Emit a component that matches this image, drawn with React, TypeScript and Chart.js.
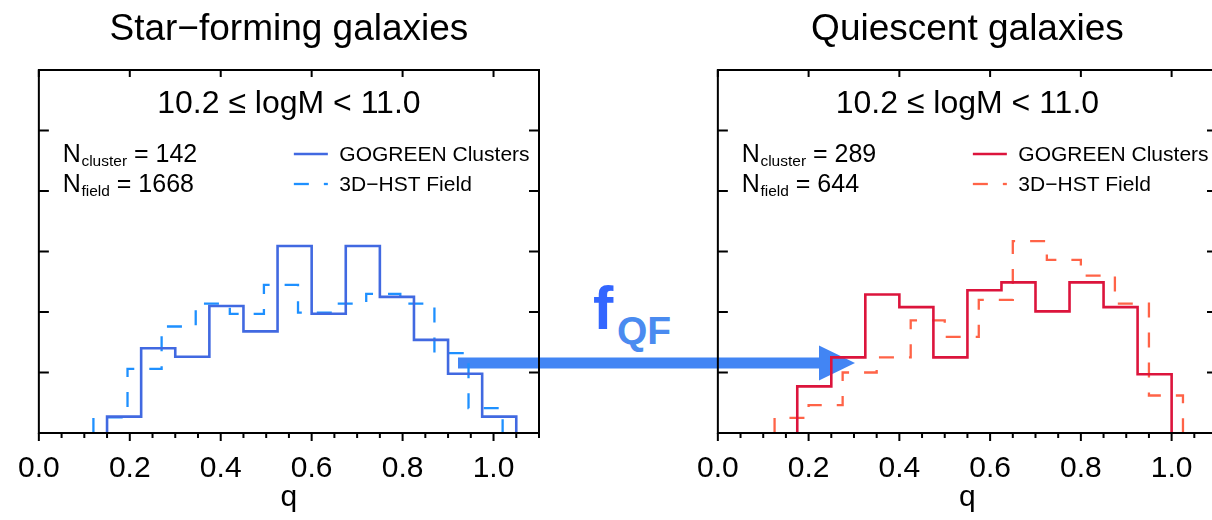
import React, { useEffect, useRef } from 'react';
import { Chart, registerables } from 'chart.js';

Chart.register(...registerables);

// ---------------- data ----------------
const xTickValues = [0.0, 0.2, 0.4, 0.6, 0.8, 1.0];
const yTickValues = [1, 2, 3, 4, 5];
const panelTitles = ['Star−forming galaxies', 'Quiescent galaxies'];
const massLabel = '10.2 ≤ logM < 11.0';
const seriesLabels = ['GOGREEN Clusters', '3D−HST Field'];
const sfCounts = [142, 1668];
const qCounts = [289, 644];

// star-forming, GOGREEN clusters (bin edges, bin heights)
const sfClusterEdges = [0.15, 0.225, 0.3, 0.375, 0.45, 0.525, 0.6, 0.675, 0.75, 0.825, 0.9, 0.975, 1.05];
const sfClusterValues = [0.27, 1.4, 1.26, 2.1, 1.68, 3.09, 1.97, 3.09, 2.25, 1.54, 0.98, 0.27];
// star-forming, 3D-HST field
const sfFieldEdges = [0.12, 0.195, 0.27, 0.345, 0.42, 0.495, 0.57, 0.645, 0.72, 0.795, 0.87, 0.945, 1.02];
const sfFieldValues = [0.26, 1.06, 1.76, 2.14, 1.97, 2.45, 1.99, 2.14, 2.3, 2.14, 1.32, 0.41];
// quiescent, GOGREEN clusters
const qClusterEdges = [0.175, 0.25, 0.325, 0.4, 0.475, 0.55, 0.625, 0.7, 0.775, 0.85, 0.925, 1.0];
const qClusterValues = [0.77, 1.25, 2.29, 2.08, 1.25, 2.36, 2.49, 2.01, 2.49, 2.08, 0.97];
// quiescent, 3D-HST field
const qFieldEdges = [0.125, 0.2, 0.275, 0.35, 0.425, 0.5, 0.575, 0.65, 0.725, 0.8, 0.875, 0.95, 1.025];
const qFieldValues = [0.25, 0.46, 1.0, 1.25, 1.86, 1.59, 2.2, 3.17, 2.86, 2.6, 2.14, 0.62];

// ---------------- styling ----------------
const FONT = '"Liberation Sans", Arial, Helvetica, sans-serif';
Chart.defaults.font.family = FONT;

type Panel = {
  title: string;
  counts: number[];
  clusterEdges: number[];
  clusterValues: number[];
  fieldEdges: number[];
  fieldValues: number[];
  solidColor: string;
  dashColor: string;
  canvasLeft: number;
  padLeft: number;
  plotWidth: number;
};

const panels: Panel[] = [
  {
    title: panelTitles[0],
    counts: sfCounts,
    clusterEdges: sfClusterEdges,
    clusterValues: sfClusterValues,
    fieldEdges: sfFieldEdges,
    fieldValues: sfFieldValues,
    solidColor: '#4169E1',
    dashColor: '#1E90FF',
    canvasLeft: 0,
    padLeft: 38,
    plotWidth: 501,
  },
  {
    title: panelTitles[1],
    counts: qCounts,
    clusterEdges: qClusterEdges,
    clusterValues: qClusterValues,
    fieldEdges: qFieldEdges,
    fieldValues: qFieldValues,
    solidColor: '#DC143C',
    dashColor: '#FF6347',
    canvasLeft: 679,
    padLeft: 38,
    plotWidth: 500,
  },
];

function stepPoints(edges: number[], values: number[]) {
  const pts = [{ x: edges[0], y: 0 }];
  values.forEach((v, i) => pts.push({ x: edges[i], y: v }));
  pts.push({ x: edges[edges.length - 1], y: 0 });
  return pts;
}

function framePlugin(panel: Panel) {
  return {
    id: 'frameAndText',
    afterDraw(chart: any) {
      const { ctx, chartArea } = chart;
      const { left, right, top, bottom } = chartArea;
      const xs = chart.scales.x;
      const ys = chart.scales.y;
      ctx.save();
      ctx.strokeStyle = '#000';
      ctx.lineWidth = 2;
      ctx.setLineDash([]);
      ctx.strokeRect(left, top, right - left, bottom - top);
      ctx.beginPath();
      // bottom ticks (outward), minor every 0.05
      for (let i = 0; i <= 22; i++) {
        const v = i * 0.05;
        const px = xs.getPixelForValue(v);
        if (px > right + 0.5) continue;
        const major = i % 4 === 0;
        ctx.moveTo(px, bottom);
        ctx.lineTo(px, bottom + (major ? 8 : 5));
      }
      // top ticks (inward, majors)
      xTickValues.forEach((v) => {
        const px = xs.getPixelForValue(v);
        ctx.moveTo(px, top);
        ctx.lineTo(px, top + 7);
      });
      // left and right ticks (inward)
      yTickValues.forEach((v) => {
        const py = ys.getPixelForValue(v);
        ctx.moveTo(left, py);
        ctx.lineTo(left + 10, py);
        ctx.moveTo(right, py);
        ctx.lineTo(right - 10, py);
      });
      ctx.stroke();

      // inner texts
      ctx.fillStyle = '#000';
      ctx.textBaseline = 'alphabetic';
      ctx.textAlign = 'center';
      ctx.font = `32px ${FONT}`;
      ctx.fillText(massLabel, (left + right) / 2, top + 42.7);

      ctx.textAlign = 'left';
      const rows = [
        { sub: 'cluster', value: panel.counts[0], y: top + 91.7, subDy: 4.5 },
        { sub: 'field', value: panel.counts[1], y: top + 121.7, subDy: 4.5 },
      ];
      rows.forEach((r) => {
        let x = left + 24;
        ctx.font = `25px ${FONT}`;
        ctx.fillText('N', x, r.y);
        x += ctx.measureText('N').width + 0.5;
        ctx.font = `15.5px ${FONT}`;
        ctx.fillText(r.sub, x, r.y + r.subDy);
        x += ctx.measureText(r.sub).width;
        ctx.font = `25px ${FONT}`;
        ctx.fillText(' = ' + r.value, x, r.y);
      });

      // legend
      const ds = chart.data.datasets;
      const legendRows = [
        { d: ds[0], y: top + 84, ty: top + 90.7 },
        { d: ds[1], y: top + 114, ty: top + 121 },
      ];
      legendRows.forEach((r) => {
        ctx.beginPath();
        ctx.strokeStyle = r.d.borderColor;
        ctx.lineWidth = r.d.borderWidth;
        ctx.setLineDash(r.d.borderDash || []);
        ctx.moveTo(left + 255, r.y);
        ctx.lineTo(left + 289, r.y);
        ctx.stroke();
        ctx.setLineDash([]);
        ctx.fillStyle = '#000';
        ctx.font = `21px ${FONT}`;
        ctx.fillText(r.d.label, left + 300.5, r.ty);
      });
      ctx.restore();
    },
  };
}

function makeConfig(panel: Panel): any {
  return {
    type: 'line',
    data: {
      datasets: [
        {
          label: seriesLabels[0],
          data: stepPoints(panel.clusterEdges, panel.clusterValues),
          borderColor: panel.solidColor,
          borderWidth: 2.6,
          stepped: 'before',
          pointRadius: 0,
          fill: false,
        },
        {
          label: seriesLabels[1],
          data: stepPoints(panel.fieldEdges, panel.fieldValues),
          borderColor: panel.dashColor,
          borderWidth: 2.3,
          borderDash: [15, 15],
          stepped: 'before',
          pointRadius: 0,
          fill: false,
        },
      ],
    },
    options: {
      animation: false,
      responsive: false,
      maintainAspectRatio: false,
      devicePixelRatio: 1,
      layout: { padding: { left: panel.padLeft, right: panel.padLeft, top: 0, bottom: 0 } },
      scales: {
        x: {
          type: 'linear',
          min: 0,
          max: 1.1,
          grid: { display: false, drawTicks: false },
          border: { display: false },
          afterBuildTicks: (s: any) => {
            s.ticks = xTickValues.map((v) => ({ value: v }));
          },
          afterFit: (s: any) => {
            s.height = 87;
          },
          ticks: {
            color: '#000',
            font: { size: 30, family: FONT },
            padding: 18,
            maxRotation: 0,
            autoSkip: false,
            callback: (v: any) => Number(v).toFixed(1),
          },
          title: {
            display: true,
            text: 'q',
            color: '#000',
            font: { size: 30, family: FONT },
            padding: { top: 0, bottom: 4 },
          },
        },
        y: { type: 'linear', min: 0, max: 6, display: false },
      },
      plugins: {
        legend: { display: false },
        tooltip: { enabled: false },
        title: {
          display: true,
          text: panel.title,
          color: '#000',
          fullSize: false,
          font: { size: 37, weight: 'normal', family: FONT },
          padding: { top: 7.2, bottom: 18.4 },
        },
      },
    },
    plugins: [framePlugin(panel)],
  };
}

function PanelChart({ panel }: { panel: Panel }) {
  const ref = useRef<HTMLCanvasElement | null>(null);
  useEffect(() => {
    if (!ref.current) return;
    const chart = new Chart(ref.current, makeConfig(panel));
    return () => chart.destroy();
  }, [panel]);
  const w = panel.padLeft * 2 + panel.plotWidth;
  return (
    <canvas
      ref={ref}
      width={w}
      height={520}
      style={{ position: 'absolute', left: panel.canvasLeft, top: 0, width: w, height: 520, zIndex: 1 }}
    />
  );
}

export default function App() {
  return (
    <div
      style={{
        position: 'fixed',
        left: 0,
        top: 0,
        width: 1212,
        height: 520,
        overflow: 'hidden',
        background: '#fff',
      }}
    >
      <svg
        width={1212}
        height={520}
        style={{ position: 'absolute', left: 0, top: 0, zIndex: 0 }}
      >
        <rect x={458} y={357.5} width={364} height={11} fill="#4285F4" />
        <polygon points="819,345.5 855,363 819,380.5" fill="#4285F4" />
        <text x={593} y={328.5} fontFamily={FONT} fontWeight="bold" fontSize={61} fill="#3366FF">
          f
        </text>
        <text x={617} y={344} fontFamily={FONT} fontWeight="bold" fontSize={39} fill="#4A8BF0">
          QF
        </text>
      </svg>
      {panels.map((p, i) => (
        <PanelChart key={i} panel={p} />
      ))}
    </div>
  );
}
